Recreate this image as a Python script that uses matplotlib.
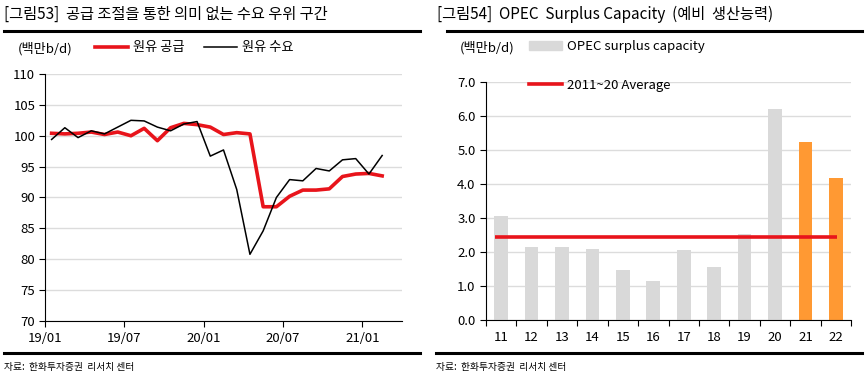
import numpy as np
import matplotlib
matplotlib.use('Agg')
import matplotlib.pyplot as plt
from matplotlib.lines import Line2D
from matplotlib.patches import Patch

plt.rcParams['font.family'] = ['Noto Sans CJK KR', 'DejaVu Sans']

# left chart: monthly crude supply / demand (million b/d), 19/01 ~ 21/02
months = ['19/01', '19/02', '19/03', '19/04', '19/05', '19/06', '19/07', '19/08', '19/09',
          '19/10', '19/11', '19/12', '20/01', '20/02', '20/03', '20/04', '20/05', '20/06',
          '20/07', '20/08', '20/09', '20/10', '20/11', '20/12', '21/01', '21/02']
supply = [100.4, 100.3, 100.4, 100.6, 100.2, 100.6, 100.0, 101.2, 99.2, 101.3, 102.0, 101.8,
          101.4, 100.2, 100.5, 100.3, 88.5, 88.5, 90.2, 91.2, 91.2, 91.4, 93.4, 93.8, 93.9, 93.5]
demand = [99.4, 101.3, 99.7, 100.8, 100.3, 101.4, 102.5, 102.4, 101.4, 100.8, 101.9, 102.3,
          96.7, 97.7, 91.3, 80.8, 84.6, 90.0, 92.9, 92.7, 94.7, 94.3, 96.1, 96.3, 93.8, 96.8]
tick_months = ['19/01', '19/07', '20/01', '20/07', '21/01']

# right chart: OPEC surplus capacity
years = ['11', '12', '13', '14', '15', '16', '17', '18', '19', '20', '21', '22']
capacity = [3.06, 2.14, 2.16, 2.09, 1.47, 1.16, 2.05, 1.57, 2.53, 6.21, 5.24, 4.18]
avg_2011_20 = 2.43

W, H = 866, 377
fig = plt.figure(figsize=(W / 100, H / 100), dpi=100)

def box(x0, y0, x1, y1):
    return [x0 / W, 1 - y1 / H, (x1 - x0) / W, (y1 - y0) / H]

red = '#E8141B'
grid_c = '#DCDCDC'
fs = 9.5

# ---------- left ----------
ax1 = fig.add_axes(box(45, 74, 402, 321))
x = np.arange(len(months)) + 0.5
ax1.plot(x, supply, color=red, lw=2.6, label='원유 공급', zorder=3)
ax1.plot(x, demand, color='black', lw=1.1, label='원유 수요', zorder=4)
ax1.set_xlim(0, 27)
ax1.set_ylim(70, 110)
ax1.set_yticks(range(70, 111, 5))
ax1.set_xticks([months.index(m) for m in tick_months])
ax1.set_xticklabels(tick_months)
ax1.yaxis.grid(True, color=grid_c, lw=1)
ax1.set_axisbelow(True)
for s in ['top', 'right']:
    ax1.spines[s].set_visible(False)
ax1.tick_params(axis='both', labelsize=fs, length=4, width=0.8, direction='out', pad=3)
ax1.tick_params(axis='x', pad=4)

fig.text(4 / W, 1 - 14 / H, '[그림53]  공급 조절을 통한 의미 없는 수요 우위 구간',
         fontsize=11, va='center', ha='left')
fig.text(18 / W, 1 - 49 / H, '(백만b/d)', fontsize=fs, va='center', ha='left')
fig.legend(handles=ax1.get_lines(), loc='center left', bbox_to_anchor=(95 / W, 1 - 48 / H),
           ncol=2, frameon=False, fontsize=fs, handlelength=2.5, handletextpad=0.35,
           columnspacing=1.5, borderpad=0, borderaxespad=0)

# ---------- right ----------
ax2 = fig.add_axes(box(486, 82, 851, 320))
colors = ['#D9D9D9'] * 10 + ['#FF9933'] * 2
xb = np.arange(len(years))
ax2.bar(xb, capacity, width=0.45, color=colors, zorder=2)
ax2.hlines(avg_2011_20, -0.2, 11.05, color=red, lw=2.6, zorder=3)
ax2.set_xlim(-0.5, 11.5)
ax2.set_ylim(0, 7)
ax2.set_yticks(np.arange(0, 7.1, 1))
ax2.set_yticklabels([f'{v:.1f}' for v in np.arange(0, 7.1, 1)])
ax2.set_xticks(xb)
ax2.set_xticklabels(years)
ax2.set_xticks(np.arange(-0.5, 12, 1), minor=True)
ax2.tick_params(axis='x', which='major', length=0, pad=8)
ax2.tick_params(axis='x', which='minor', length=4, width=0.8)
ax2.tick_params(axis='both', labelsize=fs)
ax2.tick_params(axis='y', length=4, width=0.8)
ax2.yaxis.grid(True, color=grid_c, lw=1)
ax2.set_axisbelow(True)
for s in ['top', 'right']:
    ax2.spines[s].set_visible(False)

fig.text(437 / W, 1 - 14 / H, '[그림54]  OPEC  Surplus Capacity  (예비  생산능력)',
         fontsize=11, va='center', ha='left', fontstretch='condensed')
fig.text(460 / W, 1 - 48 / H, '(백만b/d)', fontsize=fs, va='center', ha='left')
h2 = [Patch(color='#D9D9D9', label='OPEC surplus capacity'),
      Line2D([], [], color=red, lw=2.6, label='2011~20 Average')]
fig.legend(handles=h2, loc='upper left', bbox_to_anchor=(529 / W, 1 - 40 / H),
           frameon=False, fontsize=fs, handlelength=2.5, handletextpad=0.35,
           labelspacing=1.95, borderpad=0, borderaxespad=0)

# rules and source
for x0, x1 in [(4, 420), (447, 862)]:
    fig.add_artist(Line2D([x0 / W, x1 / W], [1 - 31 / H] * 2, color='black', lw=2.2,
                          transform=fig.transFigure))
for x0, x1 in [(4, 420), (436, 862)]:
    fig.add_artist(Line2D([x0 / W, x1 / W], [1 - 353 / H] * 2, color='black', lw=2.2,
                          transform=fig.transFigure))
    fig.text(x0 / W, 1 - 367 / H, '자료:  한화투자증권  리서치 센터', fontsize=7,
             va='center', ha='left')

fig.savefig('out.png', dpi=100)
